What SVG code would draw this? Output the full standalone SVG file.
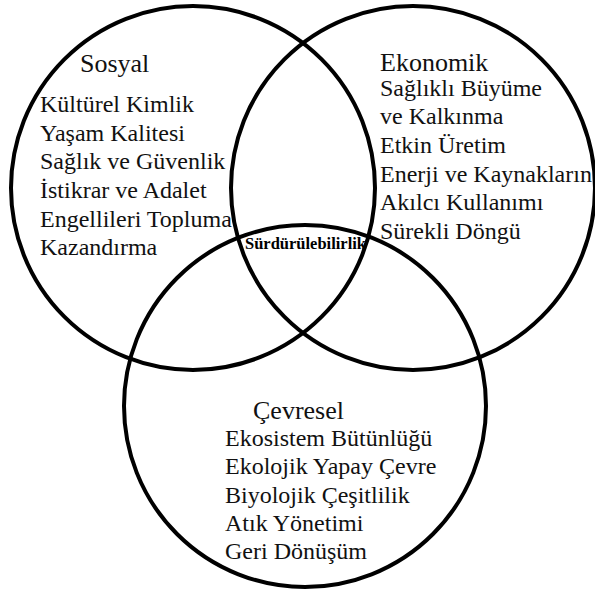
<svg xmlns="http://www.w3.org/2000/svg" width="595" height="592" viewBox="0 0 595 592">
<style>
.c{fill:none;stroke:#000;stroke-width:4}
text{font-family:'Liberation Serif','Times New Roman',serif;fill:#111;font-size:24px}
.h{font-size:26px}
.b{font-weight:bold;font-size:16.5px;fill:#000}
</style>
<rect width="595" height="592" fill="#fff"/>
<g id="connectors">
<circle id="c-sosyal" class="c" cx="193" cy="188" r="182"/>
<circle id="c-ekonomik" class="c" cx="413" cy="188" r="182"/>
<circle id="c-cevresel" class="c" cx="305" cy="406" r="181"/>
</g>
<g id="sosyal">
<text class="h" x="80" y="72">Sosyal</text>
<text x="40" y="112">Kültürel Kimlik</text>
<text x="40" y="141">Yaşam Kalitesi</text>
<text x="40" y="169">Sağlık ve Güvenlik</text>
<text x="40" y="198">İstikrar ve Adalet</text>
<text x="40" y="227">Engellileri Topluma</text>
<text x="40" y="255">Kazandırma</text>
</g>
<g id="ekonomik">
<text class="h" x="380" y="71">Ekonomik</text>
<text x="380" y="96">Sağlıklı Büyüme</text>
<text x="380" y="124">ve Kalkınma</text>
<text x="380" y="153">Etkin Üretim</text>
<text x="380" y="182">Enerji ve Kaynakların</text>
<text x="380" y="210">Akılcı Kullanımı</text>
<text x="380" y="239">Sürekli Döngü</text>
</g>
<g id="cevresel">
<text class="h" x="253" y="419">Çevresel</text>
<text x="225" y="446">Ekosistem Bütünlüğü</text>
<text x="225" y="474">Ekolojik Yapay Çevre</text>
<text x="225" y="503">Biyolojik Çeşitlilik</text>
<text x="225" y="531">Atık Yönetimi</text>
<text x="225" y="559">Geri Dönüşüm</text>
</g>
<g id="surdurulebilirlik">
<text class="b" x="245" y="249">Sürdürülebilirlik</text>
</g>
</svg>
